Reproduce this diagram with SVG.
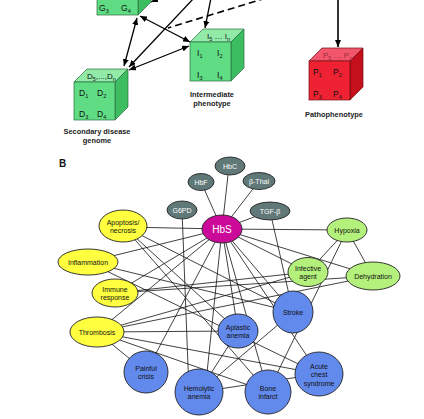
<svg xmlns="http://www.w3.org/2000/svg" width="424" height="419" viewBox="0 0 424 419">
<defs>
<marker id="ah" markerUnits="userSpaceOnUse" markerWidth="7" markerHeight="6" viewBox="0 0 7 6" refX="7" refY="3" orient="auto-start-reverse"><path d="M0,0 L7,3 L0,6 z" fill="#000"/></marker>
</defs>
<style>
text{font-family:"Liberation Sans",Arial,sans-serif;}
.cf{fill:#5fdc84;stroke:#2d6b3d;stroke-width:0.7}
.ct{fill:#92eaa9;stroke:#2d6b3d;stroke-width:0.7}
.cs{fill:#3dbd62;stroke:#2d6b3d;stroke-width:0.7}
.rf{fill:#ee2233;stroke:#6e1010;stroke-width:0.7}
.rt{fill:#f2566c;stroke:#6e1010;stroke-width:0.7}
.rs{fill:#c4101c;stroke:#6e1010;stroke-width:0.7}
.cl{font-size:8.5px;fill:#111}
.sb{font-size:5.5px}
.cap{font-size:7.4px;font-weight:bold;fill:#222;text-anchor:middle}
.arr{stroke:#000;stroke-width:1.3;fill:none;marker-start:url(#ah);marker-end:url(#ah)}
.arr1{stroke:#000;stroke-width:1.3;fill:none;marker-end:url(#ah)}
.dash{stroke:#000;stroke-width:1.6;fill:none;stroke-dasharray:7 4}
.e{stroke:#111;stroke-width:0.8;fill:none}
.nd{stroke:#222;stroke-width:0.9}
.grey{fill:#617878}
.mag{fill:#cc0a99}
.yel{fill:#ffff40}
.grn{fill:#b4f07c}
.blu{fill:#6289ec}
.lt{font-size:7px;fill:#111;text-anchor:middle}
.lw{font-size:7px;fill:#fff;text-anchor:middle}
</style>

<g id="connectors-a">
<line class="arr" x1="137" y1="18" x2="124" y2="66"/>
<line class="arr" x1="140" y1="16" x2="190" y2="42"/>
<line class="arr" x1="129" y1="70" x2="189" y2="46"/>
<line class="arr1" x1="194" y1="-2" x2="129" y2="67"/>
<line class="arr1" x1="211" y1="-2" x2="205" y2="28"/>
<line class="arr1" x1="170" y1="-6" x2="151" y2="2"/>
<line class="dash" x1="266" y1="-2" x2="168" y2="28"/>
<line class="arr1" x1="338" y1="-2" x2="338" y2="47" style="stroke-width:1.6"/>
</g>

<g id="cube-g">
<polygon class="cs" points="138,-25 151,-38 151,2 138,15"/>
<rect class="cf" x="97" y="-25" width="41" height="40"/>
<text class="cl" x="99" y="11">G<tspan class="sb" dy="1.5">3</tspan></text>
<text class="cl" x="121" y="11">G<tspan class="sb" dy="1.5">4</tspan></text>
</g>

<g id="cube-d">
<polygon class="ct" points="74,82 87,69 128,69 115,82"/>
<polygon class="cs" points="115,82 128,69 128,107 115,120"/>
<rect class="cf" x="74" y="82" width="41" height="38"/>
<text class="cl" x="87" y="79" style="font-size:8px">D<tspan class="sb" dy="1.5">5</tspan><tspan dy="-1.5">,...,D</tspan><tspan class="sb" dy="1.5">n</tspan></text>
<text class="cl" x="79" y="96">D<tspan class="sb" dy="1.5">1</tspan></text>
<text class="cl" x="97" y="96">D<tspan class="sb" dy="1.5">2</tspan></text>
<text class="cl" x="79" y="117">D<tspan class="sb" dy="1.5">3</tspan></text>
<text class="cl" x="97" y="117">D<tspan class="sb" dy="1.5">4</tspan></text>
<text class="cap" x="97" y="134">Secondary disease</text>
<text class="cap" x="97" y="143">genome</text>
</g>

<g id="cube-i">
<polygon class="ct" points="190,42 203,29 244,29 231,42"/>
<polygon class="cs" points="231,42 244,29 244,68 231,81"/>
<rect class="cf" x="190" y="42" width="41" height="39"/>
<text class="cl" x="207" y="39" style="font-size:8px">I<tspan class="sb" dy="1.5">5</tspan><tspan dy="-1.5"> … I</tspan><tspan class="sb" dy="1.5">n</tspan></text>
<text class="cl" x="197" y="56">I<tspan class="sb" dy="1.5">1</tspan></text>
<text class="cl" x="217" y="56">I<tspan class="sb" dy="1.5">2</tspan></text>
<text class="cl" x="197" y="78">I<tspan class="sb" dy="1.5">3</tspan></text>
<text class="cl" x="217" y="78">I<tspan class="sb" dy="1.5">4</tspan></text>
<text class="cap" x="212" y="97">Intermediate</text>
<text class="cap" x="212" y="106">phenotype</text>
</g>

<g id="cube-p">
<polygon class="rt" points="309,61 322,48 363,48 350,61"/>
<polygon class="rs" points="350,61 363,48 363,87 350,100"/>
<rect class="rf" x="309" y="61" width="41" height="39"/>
<text class="cl" x="323" y="58" style="font-size:8px;fill:#a02a3a">P<tspan class="sb" dy="1.5">5</tspan><tspan dy="-1.5"> … P</tspan><tspan class="sb" dy="1.5">n</tspan></text>
<text class="cl" x="313" y="75">P<tspan class="sb" dy="1.5">1</tspan></text>
<text class="cl" x="333" y="75">P<tspan class="sb" dy="1.5">2</tspan></text>
<text class="cl" x="313" y="97">P<tspan class="sb" dy="1.5">3</tspan></text>
<text class="cl" x="333" y="97">P<tspan class="sb" dy="1.5">4</tspan></text>
<text class="cap" x="334" y="117">Pathophenotype</text>
</g>

<text x="59" y="167" style="font-size:10px;font-weight:bold;fill:#111">B</text>

<g id="connectors-b">
<line class="e" x1="222" y1="229" x2="201" y2="182"/>
<line class="e" x1="222" y1="229" x2="229" y2="166"/>
<line class="e" x1="222" y1="229" x2="259" y2="181"/>
<line class="e" x1="222" y1="229" x2="270" y2="211"/>
<line class="e" x1="222" y1="229" x2="123" y2="227"/>
<line class="e" x1="222" y1="229" x2="88" y2="262"/>
<line class="e" x1="222" y1="229" x2="115" y2="293"/>
<line class="e" x1="222" y1="229" x2="97" y2="332"/>
<line class="e" x1="222" y1="229" x2="146" y2="372"/>
<line class="e" x1="222" y1="229" x2="205" y2="392"/>
<line class="e" x1="222" y1="229" x2="238" y2="331"/>
<line class="e" x1="222" y1="229" x2="268" y2="392"/>
<line class="e" x1="222" y1="229" x2="293" y2="312"/>
<line class="e" x1="222" y1="229" x2="319" y2="374"/>
<line class="e" x1="222" y1="229" x2="308" y2="272"/>
<line class="e" x1="222" y1="229" x2="373" y2="276"/>
<line class="e" x1="222" y1="229" x2="347" y2="230"/>
<line class="e" x1="182" y1="210" x2="189" y2="392"/>
<line class="e" x1="270" y1="211" x2="293" y2="312"/>
<line class="e" x1="123" y1="226" x2="268" y2="392"/>
<line class="e" x1="123" y1="226" x2="293" y2="312"/>
<line class="e" x1="123" y1="226" x2="238" y2="331"/>
<line class="e" x1="88" y1="262" x2="293" y2="312"/>
<line class="e" x1="88" y1="262" x2="319" y2="374"/>
<line class="e" x1="115" y1="293" x2="308" y2="272"/>
<line class="e" x1="115" y1="293" x2="373" y2="276"/>
<line class="e" x1="97" y1="332" x2="308" y2="272"/>
<line class="e" x1="97" y1="332" x2="373" y2="276"/>
<line class="e" x1="97" y1="332" x2="238" y2="331"/>
<line class="e" x1="97" y1="332" x2="319" y2="374"/>
<line class="e" x1="97" y1="332" x2="268" y2="392"/>
<line class="e" x1="97" y1="332" x2="146" y2="372"/>
<line class="e" x1="199" y1="392" x2="238" y2="331"/>
<line class="e" x1="199" y1="392" x2="319" y2="374"/>
<line class="e" x1="199" y1="392" x2="293" y2="312"/>
<line class="e" x1="268" y1="392" x2="347" y2="230"/>
<line class="e" x1="308" y1="272" x2="347" y2="230"/>
<line class="e" x1="347" y1="230" x2="373" y2="276"/>
</g>

<g id="n-g6pd"><ellipse class="nd grey" cx="182" cy="210" rx="15" ry="9"/><text class="lw" x="182" y="212.5">G6PD</text></g>
<g id="n-hbf"><ellipse class="nd grey" cx="201" cy="182" rx="13" ry="8.5"/><text class="lw" x="201" y="184.5">HbF</text></g>
<g id="n-hbc"><ellipse class="nd grey" cx="230" cy="166" rx="15" ry="9"/><text class="lw" x="230" y="168.5">HbC</text></g>
<g id="n-bthal"><ellipse class="nd grey" cx="259" cy="181" rx="16" ry="8.5"/><text class="lw" x="259" y="183.5">β-Thal</text></g>
<g id="n-tgfb"><ellipse class="nd grey" cx="270" cy="211" rx="20" ry="9"/><text class="lw" x="270" y="213.5">TGF-β</text></g>
<g id="n-hbs"><ellipse class="nd mag" cx="222" cy="229" rx="20" ry="14"/><text class="lw" x="222" y="233" style="font-size:10px">HbS</text></g>

<g id="n-apoptosis"><ellipse class="nd yel" cx="123" cy="226" rx="24" ry="16"/><text class="lt" x="123" y="224.5">Apoptosis/</text><text class="lt" x="123" y="233">necrosis</text></g>
<g id="n-inflammation"><ellipse class="nd yel" cx="88" cy="262" rx="30" ry="13"/><text class="lt" x="88" y="264.5">Inflammation</text></g>
<g id="n-immune"><ellipse class="nd yel" cx="115" cy="293" rx="23" ry="14"/><text class="lt" x="115" y="291.5">Immune</text><text class="lt" x="115" y="300">response</text></g>
<g id="n-thrombosis"><ellipse class="nd yel" cx="97" cy="332" rx="27" ry="15"/><text class="lt" x="97" y="334.5">Thrombosis</text></g>

<g id="n-hypoxia"><ellipse class="nd grn" cx="347" cy="230" rx="20" ry="12"/><text class="lt" x="347" y="232.5">Hypoxia</text></g>
<g id="n-infective"><ellipse class="nd grn" cx="308" cy="272" rx="20" ry="14.5"/><text class="lt" x="308" y="270.5">Infective</text><text class="lt" x="308" y="279">agent</text></g>
<g id="n-dehydration"><ellipse class="nd grn" cx="373" cy="276" rx="27" ry="14"/><text class="lt" x="373" y="278.5">Dehydration</text></g>

<g id="n-painful"><ellipse class="nd blu" cx="146" cy="372" rx="22" ry="21"/><text class="lt" x="146" y="370.5">Painful</text><text class="lt" x="146" y="379">crisis</text></g>
<g id="n-hemolytic"><ellipse class="nd blu" cx="199" cy="392" rx="24" ry="23"/><text class="lt" x="199" y="390.5">Hemolytic</text><text class="lt" x="199" y="399">anemia</text></g>
<g id="n-aplastic"><ellipse class="nd blu" cx="238" cy="331" rx="20" ry="17"/><text class="lt" x="238" y="329.5">Aplastic</text><text class="lt" x="238" y="338">anemia</text></g>
<g id="n-stroke"><ellipse class="nd blu" cx="293" cy="312" rx="20" ry="21"/><text class="lt" x="293" y="314.5">Stroke</text></g>
<g id="n-bone"><ellipse class="nd blu" cx="268" cy="392" rx="23" ry="22"/><text class="lt" x="268" y="390.5">Bone</text><text class="lt" x="268" y="399">infarct</text></g>
<g id="n-acute"><ellipse class="nd blu" cx="319" cy="374" rx="24" ry="22"/><text class="lt" x="319" y="368.5">Acute</text><text class="lt" x="319" y="377">chest</text><text class="lt" x="319" y="385.5">syndrome</text></g>
</svg>
